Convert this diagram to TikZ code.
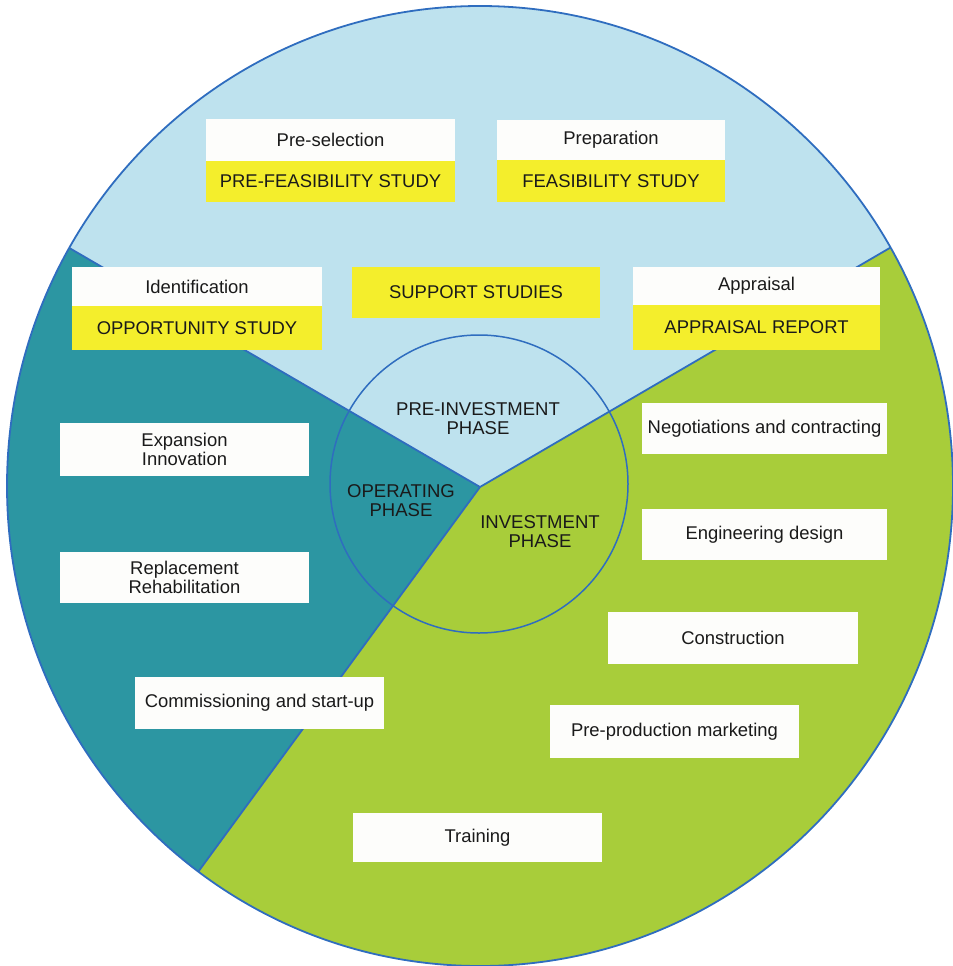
\documentclass[tikz,border=0pt]{standalone}
\usepackage{fontspec}
\setmainfont{Liberation Sans}
\definecolor{skyb}{HTML}{BEE2EE}
\definecolor{tealc}{HTML}{2C96A2}
\definecolor{limec}{HTML}{A8CD3A}
\definecolor{yelc}{HTML}{F4EE2C}
\definecolor{linec}{HTML}{2F6DBF}
\definecolor{txtc}{HTML}{1A1A1A}
\definecolor{whtc}{HTML}{FDFDFB}
\begin{document}
\begin{tikzpicture}[x=1bp,y=-1bp,
  lbl/.style={inner sep=0pt, outer sep=0pt, text=txtc, align=center, font=\fontsize{18.5}{19.5}\selectfont},
  wbox/.style={lbl, fill=whtc, anchor=north west},
  ybox/.style={lbl, fill=yelc, anchor=north west},
  phase/.style={inner sep=0pt, text=txtc, align=center, font=\fontsize{18.6}{19}\selectfont},
  rim/.style={draw=linec, line width=1.8bp},
]
\useasboundingbox (0,0) rectangle (953,966);
% geometry
\coordinate (v) at (480,487);
\coordinate (eL) at (-386,-17);
\coordinate (eR) at (1344,-17);
\coordinate (eB) at (-111,1294);
% sectors
\begin{scope}
  \clip (480,486) ellipse [x radius=473, y radius=480];
  \fill[limec] (-50,-50) rectangle (1000,1000);
  \fill[skyb] (v) -- (eL) -- (-386,-300) -- (1344,-300) -- (eR) -- cycle;
  \fill[tealc] (v) -- (eL) -- (-386,1294) -- (eB) -- cycle;
  \draw[rim] (v) -- (eL);
  \draw[rim] (v) -- (eR);
  \draw[rim] (v) -- (eB);
\end{scope}
\draw[rim] (480,486) ellipse [x radius=473, y radius=480];
\draw[rim, line width=1.5bp] (479,484) circle [radius=149];
% phase labels
\node[phase] (pre) at (478,419) {PRE-INVESTMENT\\PHASE};
\node[phase] (oper) at (401,501) {OPERATING\\PHASE};
\node[phase] (inv) at (540,532) {INVESTMENT\\PHASE};
% top boxes
\node[wbox, minimum width=249bp, minimum height=42bp] (presel) at (206,119) {Pre-selection};
\node[ybox, minimum width=249bp, minimum height=41bp] (prefeas) at (206,161) {PRE-FEASIBILITY STUDY};
\node[wbox, minimum width=228bp, minimum height=40bp] (prep) at (497,120) {Preparation};
\node[ybox, minimum width=228bp, minimum height=42bp] (feas) at (497,160) {FEASIBILITY STUDY};
\node[wbox, minimum width=250bp, minimum height=39bp] (ident) at (72,267) {Identification};
\node[ybox, minimum width=250bp, minimum height=44bp] (opp) at (72,306) {OPPORTUNITY STUDY};
\node[ybox, minimum width=248bp, minimum height=51bp] (supp) at (352,267) {SUPPORT STUDIES};
\node[wbox, minimum width=247bp, minimum height=38bp] (appr) at (633,267) {Appraisal};
\node[ybox, minimum width=247bp, minimum height=45bp] (apprrep) at (633,305) {APPRAISAL REPORT};
% operating boxes
\node[wbox, minimum width=249bp, minimum height=53bp] (expan) at (60,423) {Expansion\\Innovation};
\node[wbox, minimum width=249bp, minimum height=51bp] (repl) at (60,552) {Replacement\\Rehabilitation};
\node[wbox, minimum width=249bp, minimum height=52bp] (commis) at (135,677) {Commissioning and start-up};
% investment boxes
\node[wbox, minimum width=245bp, minimum height=51bp] (negot) at (642,403) {Negotiations and contracting};
\node[wbox, minimum width=245bp, minimum height=51bp] (engin) at (642,509) {Engineering design};
\node[wbox, minimum width=250bp, minimum height=52bp] (constr) at (608,612) {Construction};
\node[wbox, minimum width=249bp, minimum height=53bp] (preprod) at (550,705) {Pre-production marketing};
\node[wbox, minimum width=249bp, minimum height=49bp] (train) at (353,813) {Training};
\end{tikzpicture}
\end{document}
